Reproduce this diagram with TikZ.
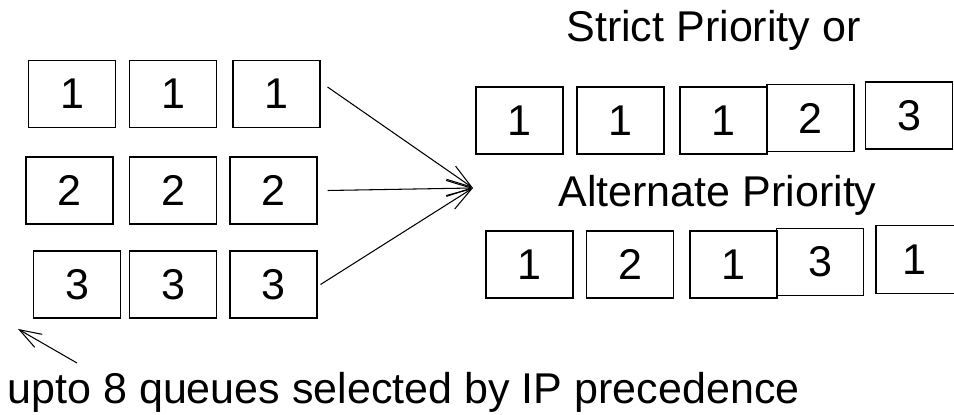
\documentclass[tikz,border=0pt]{standalone}
\usepackage{fontspec}
\setmainfont{Liberation Sans}
\usetikzlibrary{arrows.meta}

\begin{document}
\begin{tikzpicture}[x=0.02cm,y=-0.02cm,>={Straight Barb[length=5mm,width=3.2mm]},
  font=\fontsize{24.5}{29}\selectfont,line width=0.6pt,
  pkt/.style={draw,inner sep=0pt,minimum width=1.74cm,minimum height=1.34cm}]
\useasboundingbox (0,0) rectangle (954,415);
% input queues
\node[pkt] (q11) at (72,94) {1};
\node[pkt] (q12) at (173,94) {1};
\node[pkt] (q13) at (276.5,94) {1};
\node[pkt] (q21) at (69.5,190.5) {2};
\node[pkt] (q22) at (173,190.5) {2};
\node[pkt] (q23) at (273.5,190.5) {2};
\node[pkt] (q31) at (77,284.5) {3};
\node[pkt] (q32) at (173,284.5) {3};
\node[pkt] (q33) at (273.5,284.5) {3};
% output order
\node[anchor=base,inner sep=0pt] (strict) at (713.5,42) {Strict Priority or};
\node[pkt] (s1) at (519.5,120.5) {1};
\node[pkt] (s2) at (620.5,120.5) {1};
\node[pkt] (s3) at (723.5,120.5) {1};
\node[pkt] (s4) at (810.5,118) {2};
\node[pkt] (s5) at (909,115.5) {3};
\node[anchor=base,inner sep=0pt] (alt) at (717.5,207) {Alternate Priority};
\node[pkt] (a1) at (529.5,264.5) {1};
\node[pkt] (a2) at (630,264.5) {2};
\node[pkt] (a3) at (733.5,264.5) {1};
\node[pkt] (a4) at (820,262) {3};
% last packet runs off the edge
\node[pkt,draw=none,anchor=west,inner xsep=0.52cm,text width=1.2cm,align=left] (a5) at (876,259.5) {1};
\draw (a5.north east) -- (a5.north west) -- (a5.south west) -- (a5.south east);
% merge
\coordinate (mrg) at (473,188);
\draw[->] ([shift={(7,-7)}]q13.east) -- (mrg);
\draw[->] ([xshift=0.2cm]q23.east) -- (mrg);
\draw[->] ([xshift=0.06cm]q33.east) -- (mrg);
% note
\coordinate (tail) at (77,363);
\coordinate (head) at (18,329);
\draw[->,>={Straight Barb[length=4.4mm,width=3mm]}] (tail) -- (head);
\node[anchor=base west,inner sep=0pt] (note) at (7,403) {upto 8 queues selected by IP precedence};
\end{tikzpicture}
\end{document}
